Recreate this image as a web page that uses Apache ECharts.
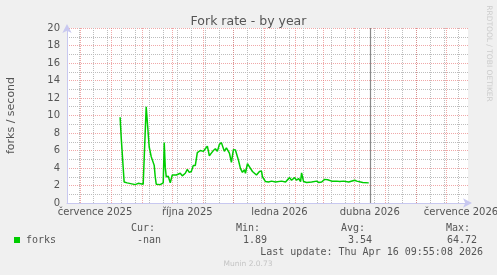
<!DOCTYPE html>
<html>
<head>
<meta charset="utf-8">
<script src="https://cdn.jsdelivr.net/npm/echarts@6/dist/echarts.min.js"></script>
<style>
html, body { margin: 0; padding: 0; background: #f0f0f0; }
#main { width: 497px; height: 275px; }
</style>
</head>
<body>
<div id="main"></div>
<script>
// osa x: jeden den = jedna kategorie
var firstDay = [2025, 5, 18];
var lastDay = [2026, 6, 23];
var gridAnchor = '2025-07-14'; // pondeli, sede cary po 14 dnech
var monthLabelDays = ['2025-07-16', '2025-10-16', '2026-01-16', '2026-04-16', '2026-07-16'];
var monthLabelTexts = ['července 2025', 'října 2025', 'ledna 2026', 'dubna 2026', 'července 2026'];

var forkDates = [
  '2025-08-10', '2025-08-11', '2025-08-14', '2025-08-17', '2025-08-25', '2025-08-28',
  '2025-09-02', '2025-09-03', '2025-09-05', '2025-09-08', '2025-09-10', '2025-09-13',
  '2025-09-14', '2025-09-15', '2025-09-19', '2025-09-22', '2025-09-23', '2025-09-24',
  '2025-09-25', '2025-09-27', '2025-09-29', '2025-10-01', '2025-10-05', '2025-10-09',
  '2025-10-11', '2025-10-14', '2025-10-16', '2025-10-18', '2025-10-20', '2025-10-22',
  '2025-10-24', '2025-10-26', '2025-10-29', '2025-11-01', '2025-11-03', '2025-11-05',
  '2025-11-07', '2025-11-09', '2025-11-11', '2025-11-13', '2025-11-15', '2025-11-17',
  '2025-11-19', '2025-11-20', '2025-11-22', '2025-11-24', '2025-11-27', '2025-11-28',
  '2025-11-29', '2025-12-01', '2025-12-03', '2025-12-06', '2025-12-08', '2025-12-10',
  '2025-12-12', '2025-12-13', '2025-12-15', '2025-12-18', '2025-12-20', '2025-12-22',
  '2025-12-24', '2025-12-27', '2025-12-29', '2025-12-30', '2026-01-02', '2026-01-05',
  '2026-01-08', '2026-01-12', '2026-01-18', '2026-01-22', '2026-01-26', '2026-01-28',
  '2026-01-31', '2026-02-02', '2026-02-04', '2026-02-06', '2026-02-07', '2026-02-09',
  '2026-02-12', '2026-02-17', '2026-02-22', '2026-02-24', '2026-02-27', '2026-03-02',
  '2026-03-05', '2026-03-09', '2026-03-14', '2026-03-17', '2026-03-21', '2026-03-26',
  '2026-04-01', '2026-04-03', '2026-04-09', '2026-04-15'
];
var forkValues = [
  9.8, 7.6, 2.4, 2.3, 2.1, 2.25,
  2.15, 2.2, 11.0, 6.4, 5.3, 4.3,
  3.0, 2.15, 2.1, 2.3, 6.9, 4.1,
  3.0, 3.05, 2.3, 3.2, 3.2, 3.4,
  3.1, 3.4, 3.85, 3.5, 3.6, 4.3,
  4.3, 5.75, 6.0, 5.9, 6.2, 6.5,
  5.4, 5.7, 6.0, 6.2, 5.9, 6.7,
  6.9, 6.75, 5.9, 6.3, 5.7, 5.9,
  4.65, 6.1, 6.05, 4.9, 3.95, 3.5,
  3.8, 3.4, 4.5, 3.95, 3.6, 3.4,
  3.2, 3.6, 3.65, 3.0, 2.45, 2.4,
  2.5, 2.4, 2.5, 2.4, 2.9, 2.6,
  2.9, 2.6, 2.8, 2.45, 3.45, 2.45,
  2.35, 2.4, 2.5, 2.35, 2.4, 2.7,
  2.65, 2.5, 2.5, 2.45, 2.5, 2.4,
  2.6, 2.5, 2.35, 2.3
];
var lastUpdate = '2026-04-16 09:55:08';
var legendName = 'forks';
var legendCur = '-nan', legendMin = '1.89', legendAvg = '3.54', legendMax = '64.72';

function pad(n) { return n < 10 ? '0' + n : '' + n; }
function ymd(d) { return d.getFullYear() + '-' + pad(d.getMonth() + 1) + '-' + pad(d.getDate()); }

var days = [];
var endDate = new Date(lastDay[0], lastDay[1], lastDay[2]);
for (var d = new Date(firstDay[0], firstDay[1], firstDay[2]); d <= endDate; d.setDate(d.getDate() + 1)) {
  days.push(ymd(d));
}
var anchorIdx = days.indexOf(gridAnchor);

var axisColor = '#c8c8f0';
var mono = '"DejaVu Sans Mono", monospace';
var sans = '"DejaVu Sans", sans-serif';
var txt = '#555';
var majorGrid = 'rgba(230,110,110,0.6)';
var minorGrid = '#bdbdbd';

var chart = echarts.init(document.getElementById('main'));
chart.setOption({
  backgroundColor: '#f0f0f0',
  animation: false,
  title: {
    text: 'Fork rate - by year',
    left: 'center',
    top: 10,
    textStyle: { fontFamily: sans, fontSize: 12.5, fontWeight: 'normal', color: txt }
  },
  grid: {
    left: 67, right: 29, top: 28, bottom: 72,
    outerBoundsMode: 'none',
    containLabel: false,
    show: true, backgroundColor: '#ffffff', borderWidth: 0
  },
  xAxis: [{
    type: 'category',
    data: days,
    boundaryGap: false,
    axisLine: { lineStyle: { color: axisColor }, symbol: ['none', 'arrow'], symbolSize: [7, 9], symbolOffset: [0, 4] },
    axisTick: { show: false },
    axisLabel: {
      interval: function (i, v) { return monthLabelDays.indexOf(v) >= 0; },
      formatter: function (v) { return monthLabelTexts[monthLabelDays.indexOf(v)]; },
      fontFamily: sans, fontSize: 10, color: txt, margin: 4
    },
    splitLine: {
      show: true,
      interval: function (i, v) { return v.slice(8) === '01'; },
      lineStyle: { color: majorGrid, type: [1, 1], width: 1 }
    },
    z: 3
  }, {
    type: 'category',
    data: days,
    boundaryGap: false,
    position: 'bottom',
    axisLine: { show: false },
    axisTick: { show: false },
    axisLabel: { show: false },
    splitLine: {
      show: true,
      interval: function (i) { return ((i - anchorIdx) % 14 + 14) % 14 === 0; },
      lineStyle: { color: minorGrid, type: [1, 1], width: 1 }
    },
    z: 2
  }, {
    type: 'time',
    show: false,
    min: new Date(firstDay[0], firstDay[1], firstDay[2]).getTime(),
    max: endDate.getTime()
  }],
  yAxis: {
    type: 'value',
    min: 0, max: 20, interval: 2,
    name: 'forks / second',
    nameLocation: 'middle',
    nameRotate: 90,
    nameGap: 50,
    nameTextStyle: { fontFamily: sans, fontSize: 11, color: txt },
    axisLine: { show: true, lineStyle: { color: axisColor }, symbol: ['none', 'arrow'], symbolSize: [7, 9], symbolOffset: [0, 4] },
    axisTick: { show: false },
    axisLabel: { fontFamily: sans, fontSize: 10, color: txt, margin: 7 },
    splitLine: { lineStyle: { color: majorGrid, type: [1, 1], width: 1 } },
    minorTick: { show: false, splitNumber: 2 },
    minorSplitLine: { show: true, lineStyle: { color: minorGrid, type: [1, 1], width: 1 } }
  },
  series: [{
    name: legendName,
    type: 'line',
    xAxisIndex: 2,
    data: forkDates.map(function (dt, i) { return [dt, forkValues[i]]; }),
    showSymbol: false,
    lineStyle: { color: '#00cc00', width: 1.5 },
    z: 5,
    markLine: {
      silent: true,
      symbol: 'none',
      label: { show: false },
      lineStyle: { color: '#888888', type: 'solid', width: 1.2 },
      data: [{ xAxis: lastUpdate }]
    }
  }],
  graphic: [
    { type: 'text', x: 488.5, y: 53.5, rotation: -Math.PI / 2,
      style: { text: 'RRDTOOL / TOBI OETIKER', font: '7.5px ' + sans, fill: '#cccccc', align: 'center', verticalAlign: 'middle' } },
    { type: 'rect', shape: { x: 14, y: 237, width: 6, height: 6 }, style: { fill: '#00cc00' } },
    { type: 'text', x: 26, y: 240, style: { text: legendName, font: '10px ' + mono, fill: txt, verticalAlign: 'middle' } },
    { type: 'text', x: 155, y: 228, style: { text: 'Cur:', font: '10px ' + mono, fill: txt, align: 'right', verticalAlign: 'middle' } },
    { type: 'text', x: 260, y: 228, style: { text: 'Min:', font: '10px ' + mono, fill: txt, align: 'right', verticalAlign: 'middle' } },
    { type: 'text', x: 365, y: 228, style: { text: 'Avg:', font: '10px ' + mono, fill: txt, align: 'right', verticalAlign: 'middle' } },
    { type: 'text', x: 470, y: 228, style: { text: 'Max:', font: '10px ' + mono, fill: txt, align: 'right', verticalAlign: 'middle' } },
    { type: 'text', x: 161, y: 240, style: { text: legendCur, font: '10px ' + mono, fill: txt, align: 'right', verticalAlign: 'middle' } },
    { type: 'text', x: 267, y: 240, style: { text: legendMin, font: '10px ' + mono, fill: txt, align: 'right', verticalAlign: 'middle' } },
    { type: 'text', x: 372, y: 240, style: { text: legendAvg, font: '10px ' + mono, fill: txt, align: 'right', verticalAlign: 'middle' } },
    { type: 'text', x: 477, y: 240, style: { text: legendMax, font: '10px ' + mono, fill: txt, align: 'right', verticalAlign: 'middle' } },
    { type: 'text', x: 483, y: 252, style: { text: 'Last update: Thu Apr 16 09:55:08 2026', font: '10px ' + mono, fill: txt, align: 'right', verticalAlign: 'middle' } },
    { type: 'text', x: 248, y: 264, style: { text: 'Munin 2.0.73', font: '7.5px ' + sans, fill: '#c4c4c4', align: 'center', verticalAlign: 'middle' } }
  ]
});
</script>
</body>
</html>
